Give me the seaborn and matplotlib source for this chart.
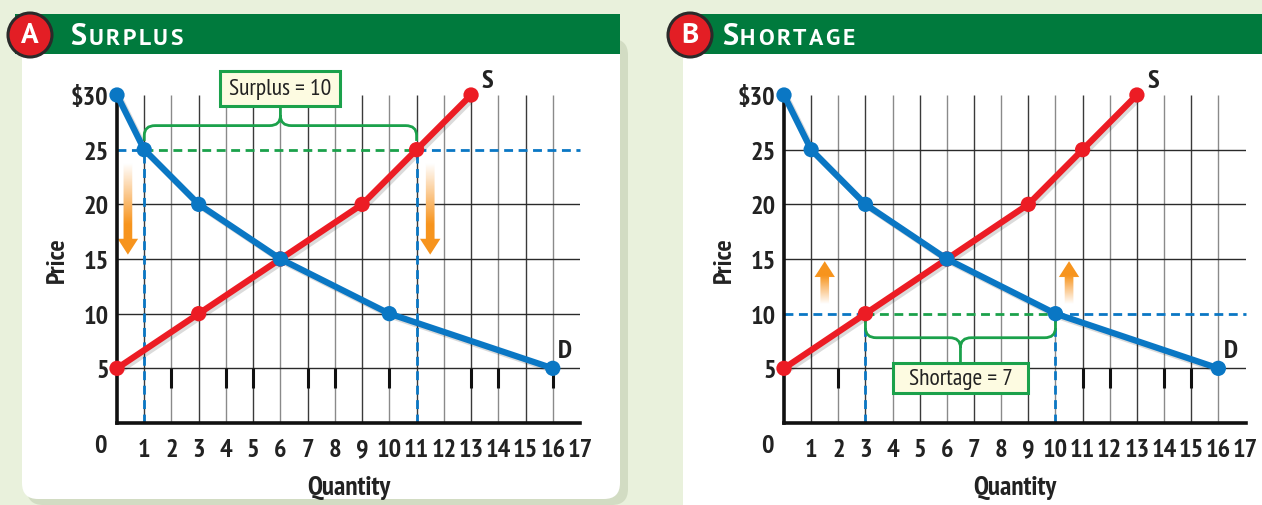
import numpy as np
import seaborn as sns
import matplotlib.pyplot as plt
import matplotlib.patheffects as pe
from matplotlib.patches import FancyBboxPatch, Ellipse, FancyArrow, Rectangle, PathPatch
from matplotlib.path import Path
from matplotlib.colors import LinearSegmentedColormap
from matplotlib.transforms import IdentityTransform

# data
demand_q = [0, 1, 3, 6, 10, 16]
demand_p = [30, 25, 20, 15, 10, 5]
supply_q = [0, 3, 6, 9, 11, 13]
supply_p = [5, 10, 15, 20, 25, 30]

price_ticks = [5, 10, 15, 20, 25, 30]
price_labels = ["5", "10", "15", "20", "25", "$30"]
qty_ticks = list(range(1, 18))

# panel A: price set above equilibrium
surplus_price = 25
surplus_q = [1, 11]          # quantity demanded, quantity supplied
surplus_text = "Surplus = 10"
surplus_arrows = [(0.4, 23.8, 15.4), (11.5, 23.8, 15.4)]
# panel B: price set below equilibrium
shortage_price = 10
shortage_q = [3, 10]         # quantity supplied, quantity demanded
shortage_text = "Shortage = 7"
shortage_arrows = [(1.5, 10.9, 14.8), (10.5, 10.9, 14.8)]

BG = "#e9f1dc"
HEAD = "#007a3d"
BLUE = "#0a77c4"
RED = "#ec1c24"
GREEN = "#1ba14b"
ORANGE = "#f7941d"
INK = "#222222"
NARROW = ["PT Sans Narrow", "DejaVu Sans"]
HEADFONT = ["PT Sans", "DejaVu Sans"]
FS = 19

sns.set_theme(style="white")
plt.rcParams["font.family"] = NARROW

W, H = 1262, 506
fig = plt.figure(figsize=(W / 100, H / 100), dpi=100, facecolor=BG)


def box_px(x0, y0, x1, y1, **kw):
    # rectangle given in image pixels (y down), drawn behind the axes
    p = FancyBboxPatch((x0, H - y1), x1 - x0, y1 - y0, transform=IdentityTransform(),
                       zorder=-5, **kw)
    fig.add_artist(p)


# panel backgrounds
box_px(27, 40, 628, 506, boxstyle="round,pad=0,rounding_size=16", fc="#d2dcc3", ec="none")
box_px(22, 40, 620, 500, boxstyle="round,pad=0,rounding_size=16", fc="white", ec="none")
box_px(683, 40, 1270, 520, boxstyle="square,pad=0", fc="white", ec="none")
box_px(15, 15, 620, 55, boxstyle="square,pad=0", fc=HEAD, ec="none")
box_px(680, 15, 1270, 55, boxstyle="square,pad=0", fc=HEAD, ec="none")

renderer = fig.canvas.get_renderer()


def header(cx, letter, word, tx):
    c = Ellipse((cx / W, 1 - 36 / H), 44 / W, 44 / H, transform=fig.transFigure,
                fc="#e31e25", ec="#2a2a2a", lw=2.2, zorder=-4)
    fig.add_artist(c)
    fig.text(cx / W, 1 - 36 / H, letter, color="white", fontsize=21, fontweight="bold",
             ha="center", va="center", family=HEADFONT)
    t = fig.text(tx / W, 1 - 45 / H, word[0], color="white", fontsize=22, fontweight="bold",
                 ha="left", va="baseline", family=HEADFONT)
    bb = t.get_window_extent(renderer=renderer)
    # small caps with a little letter spacing
    x = bb.x1 + 2
    for ch in word[1:]:
        s = fig.text(x / W, 1 - 45 / H, ch, color="white", fontsize=17, fontweight="bold",
                     ha="left", va="baseline", family=HEADFONT)
        x = s.get_window_extent(renderer=renderer).x1 + 2.5


header(30, "A", "SURPLUS", 70)
header(690, "B", "SHORTAGE", 722)


def brace(ax, x0, x1, y_end, y_line, y_tip, color):
    xm = (x0 + x1) / 2
    s = np.sign(y_tip - y_line)
    rx, ry = 0.4, 0.9
    verts = [(x0, y_end), (x0, y_line - s * ry), (x0, y_line), (x0 + rx, y_line),
             (xm - rx, y_line), (xm, y_line), (xm, y_line + s * ry), (xm, y_tip),
             (xm, y_line + s * ry), (xm, y_line), (xm + rx, y_line),
             (x1 - rx, y_line), (x1, y_line), (x1, y_line - s * ry), (x1, y_end)]
    codes = [Path.MOVETO, Path.LINETO, Path.CURVE3, Path.CURVE3,
             Path.LINETO, Path.CURVE3, Path.CURVE3, Path.LINETO,
             Path.MOVETO, Path.CURVE3, Path.CURVE3,
             Path.LINETO, Path.CURVE3, Path.CURVE3, Path.LINETO]
    ax.add_patch(PathPatch(Path(verts, codes), fc="none", ec=color, lw=2, zorder=3, clip_on=False))


def label_box(ax, xc, yc, w, h, text):
    ax.add_patch(Rectangle((xc - w / 2, yc - h / 2), w, h, fc="#fdfbe1", ec=GREEN, lw=2.2,
                           zorder=6, clip_on=False))
    ax.text(xc, yc, text, ha="center", va="center", fontsize=17, zorder=7, clip_on=False,
            color=INK)


def grad_arrow(ax, x, y0, y1):
    arr = FancyArrow(x, y0, 0, y1 - y0, width=0.32, head_width=0.75, head_length=1.45,
                     length_includes_head=True, fc="none", ec="none")
    ax.add_patch(arr)
    cmap = LinearSegmentedColormap.from_list("o", ["white", "#fbc98f", ORANGE, ORANGE])
    g = np.linspace(0, 1, 200).reshape(-1, 1)
    if y1 < y0:
        g = g[::-1]
    im = ax.imshow(g, extent=[x - 0.5, x + 0.5, min(y0, y1), max(y0, y1)], origin="lower",
                   cmap=cmap, aspect="auto", zorder=2, interpolation="bilinear")
    im.set_clip_path(arr)


def draw_panel(ax, price, q_pair, text, arrows, above, thick_ticks):
    # grid
    for q in qty_ticks[:-1]:
        ax.vlines(q, 0, 30, colors="#3a3a3a" if q % 2 else "#8a8a8a", lw=1, zorder=1)
    for p in price_ticks[:-1]:
        if p != price:
            ax.hlines(p, 0, 17, colors="#2a2a2a", lw=1, zorder=1)
    ax.vlines(thick_ticks, 3.2, 5, colors="#111111", lw=2.2, zorder=1)

    # price level
    dash = (0, (3.2, 2.0))
    ax.plot([0, q_pair[0]], [price, price], color=BLUE, lw=2, ls=dash, zorder=2)
    ax.plot([q_pair[1], 17], [price, price], color=BLUE, lw=2, ls=dash, zorder=2, clip_on=False)
    ax.plot(q_pair, [price, price], color=GREEN, lw=2, ls=dash, zorder=2)
    for q in q_pair:
        ax.plot([q, q], [0, price], color=BLUE, lw=2, ls=dash, zorder=2)

    for x, y0, y1 in arrows:
        grad_arrow(ax, x, y0, y1)

    shadow = [pe.SimpleLineShadow(offset=(1.8, -1.8), shadow_color="black", alpha=0.14), pe.Normal()]
    sns.lineplot(x=supply_q, y=supply_p, ax=ax, color=RED, lw=4.5, marker="o", markersize=11,
                 markeredgewidth=0, sort=False, zorder=5, clip_on=False, path_effects=shadow)
    sns.lineplot(x=demand_q, y=demand_p, ax=ax, color=BLUE, lw=4.5, marker="o", markersize=11,
                 markeredgewidth=0, sort=False, zorder=5, clip_on=False, path_effects=shadow)
    ax.text(supply_q[-1] + 0.6, supply_p[-1] + 1.3, "S", fontsize=FS, fontweight="bold",
            ha="center", va="center", clip_on=False, color=INK)
    ax.text(demand_q[-1] + 0.45, demand_p[-1] + 1.6, "D", fontsize=FS, fontweight="bold",
            ha="center", va="center", clip_on=False, color=INK)

    xm = sum(q_pair) / 2
    if above:
        brace(ax, q_pair[0], q_pair[1], price + 0.8, price + 2.2, price + 3.9, GREEN)
        label_box(ax, xm, price + 5.6, 4.4, 3.2, text)
    else:
        brace(ax, q_pair[0], q_pair[1], price - 0.6, price - 2.2, price - 4.5, GREEN)
        label_box(ax, xm, price - 5.9, 4.97, 2.75, text)

    ax.set_xlim(0, 17)
    ax.set_ylim(0, 30)
    ax.set_xticks(qty_ticks, [str(q) for q in qty_ticks])
    ax.set_yticks(price_ticks, price_labels)
    ax.tick_params(length=0, labelsize=FS, pad=11, labelcolor=INK)
    ax.tick_params(axis="y", pad=6)
    for lab in ax.get_xticklabels() + ax.get_yticklabels():
        lab.set_fontweight("bold")
    ax.text(-0.62, -1.0, "0", fontsize=FS, fontweight="bold", ha="center", va="top",
            clip_on=False, color=INK)
    ax.set_xlabel("Quantity", fontsize=FS + 0.5, fontweight="bold", color=INK)
    ax.set_ylabel("Price", fontsize=FS, fontweight="bold", color=INK)
    ax.xaxis.set_label_coords(0.5, -0.16)
    ax.yaxis.set_label_coords(-0.105, 0.5)
    ax.set_facecolor("none")
    sns.despine(ax=ax)
    for sp in ("left", "bottom"):
        ax.spines[sp].set_linewidth(2.6)
        ax.spines[sp].set_color("#111111")
        ax.spines[sp].set_zorder(4)


axA = fig.add_axes([117 / W, 1 - 424 / H, 463 / W, 328 / H])
axB = fig.add_axes([784 / W, 1 - 424 / H, 461.5 / W, 328 / H])
draw_panel(axA, surplus_price, surplus_q, surplus_text, surplus_arrows, True,
           [2, 4, 5, 7, 8, 10, 13, 14, 16])
draw_panel(axB, shortage_price, shortage_q, shortage_text, shortage_arrows, False,
           [2, 11, 12, 14, 15])

fig.savefig("out.png", dpi=100, facecolor=BG)
